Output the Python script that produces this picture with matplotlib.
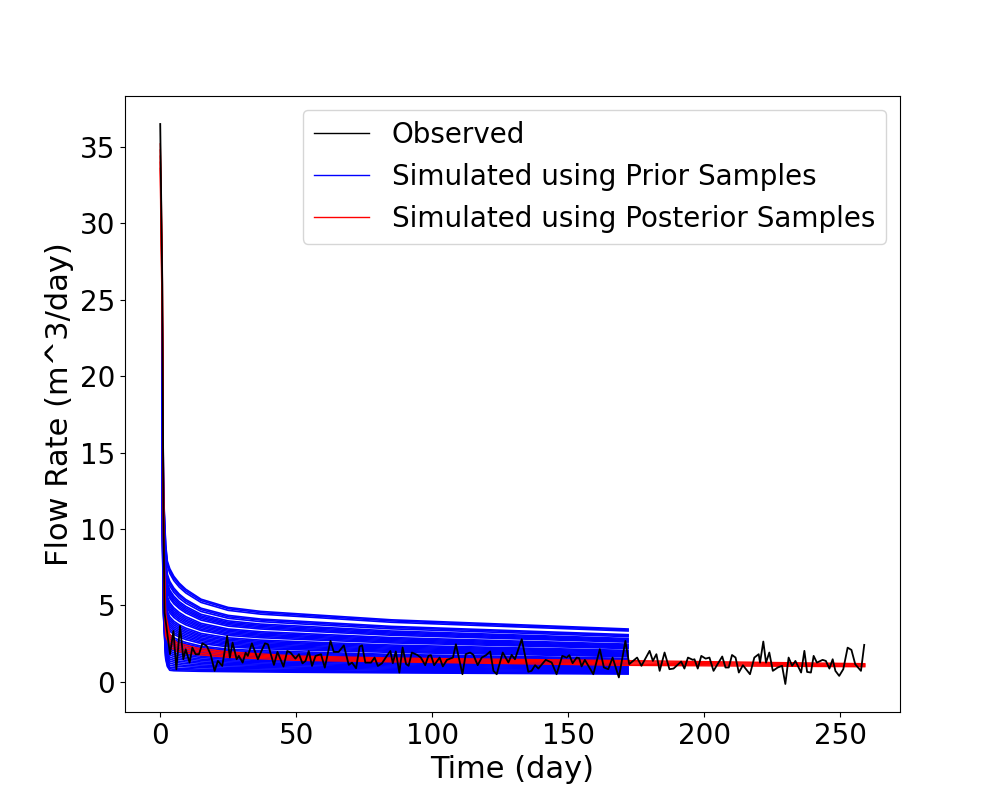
import matplotlib
matplotlib.use('Agg')
import matplotlib.pyplot as plt
from matplotlib.lines import Line2D

prior_time = [0.6, 1.2, 2, 2.6, 3.5, 5, 7, 9.4, 15, 25, 37, 50, 85, 172]
prior_curves = [
    [27.0, 12.4, 9.0, 7.9, 7.4, 6.9, 6.45, 6.05, 5.4, 4.86, 4.6, 4.45, 4.05, 3.45],
    [26.7, 12.2, 8.85, 7.76, 7.27, 6.78, 6.34, 5.94, 5.31, 4.78, 4.52, 4.37, 3.98, 3.39],
    [26.3, 12.0, 8.66, 7.59, 7.1, 6.62, 6.19, 5.81, 5.19, 4.67, 4.42, 4.28, 3.89, 3.32],
    [25.1, 11.4, 8.06, 7.04, 6.57, 6.13, 5.73, 5.38, 4.81, 4.34, 4.1, 3.97, 3.62, 3.08],
    [24.8, 11.2, 7.91, 6.9, 6.44, 6.0, 5.62, 5.27, 4.72, 4.25, 4.03, 3.89, 3.55, 3.02],
    [24.5, 11.0, 7.73, 6.73, 6.27, 5.85, 5.47, 5.14, 4.6, 4.15, 3.93, 3.8, 3.46, 2.95],
    [23.9, 10.7, 7.43, 6.45, 6.0, 5.6, 5.24, 4.93, 4.41, 3.98, 3.77, 3.65, 3.32, 2.83],
    [23.6, 10.5, 7.28, 6.31, 5.87, 5.48, 5.13, 4.82, 4.31, 3.89, 3.69, 3.57, 3.25, 2.77],
    [23.3, 10.4, 7.13, 6.18, 5.74, 5.36, 5.02, 4.71, 4.22, 3.81, 3.61, 3.49, 3.18, 2.71],
    [23.0, 10.2, 6.98, 6.04, 5.6, 5.23, 4.9, 4.61, 4.13, 3.73, 3.53, 3.42, 3.11, 2.65],
    [22.7, 10.1, 6.83, 5.9, 5.47, 5.11, 4.79, 4.5, 4.03, 3.64, 3.45, 3.34, 3.04, 2.59],
    [22.0, 9.7, 6.49, 5.59, 5.17, 4.83, 4.53, 4.26, 3.82, 3.45, 3.27, 3.17, 2.89, 2.46],
    [21.7, 9.5, 6.34, 5.45, 5.04, 4.71, 4.41, 4.15, 3.72, 3.37, 3.19, 3.09, 2.82, 2.4],
    [21.4, 9.4, 6.19, 5.31, 4.91, 4.58, 4.3, 4.04, 3.63, 3.29, 3.11, 3.01, 2.75, 2.34],
    [21.1, 9.2, 6.04, 5.17, 4.77, 4.46, 4.18, 3.94, 3.54, 3.2, 3.04, 2.94, 2.68, 2.28],
    [20.8, 9.0, 5.89, 5.04, 4.64, 4.34, 4.07, 3.83, 3.44, 3.12, 2.96, 2.86, 2.61, 2.23],
    [20.5, 8.9, 5.74, 4.9, 4.51, 4.21, 3.95, 3.72, 3.35, 3.03, 2.88, 2.78, 2.54, 2.17],
    [19.9, 8.6, 5.44, 4.62, 4.24, 3.96, 3.72, 3.51, 3.16, 2.87, 2.72, 2.63, 2.4, 2.05],
    [19.6, 8.4, 5.29, 4.48, 4.11, 3.84, 3.61, 3.4, 3.06, 2.78, 2.64, 2.55, 2.33, 1.99],
    [19.3, 8.2, 5.14, 4.35, 3.98, 3.72, 3.49, 3.29, 2.97, 2.7, 2.56, 2.48, 2.26, 1.93],
    [19.0, 8.1, 4.99, 4.21, 3.84, 3.59, 3.38, 3.19, 2.87, 2.61, 2.48, 2.4, 2.19, 1.87],
    [18.7, 7.9, 4.84, 4.07, 3.71, 3.47, 3.26, 3.08, 2.78, 2.53, 2.4, 2.32, 2.12, 1.81],
    [18.4, 7.7, 4.69, 3.93, 3.58, 3.35, 3.15, 2.97, 2.69, 2.45, 2.32, 2.25, 2.05, 1.75],
    [18.1, 7.6, 4.54, 3.79, 3.44, 3.22, 3.03, 2.87, 2.59, 2.36, 2.24, 2.17, 1.99, 1.69],
    [17.8, 7.4, 4.39, 3.66, 3.31, 3.1, 2.92, 2.76, 2.5, 2.28, 2.16, 2.09, 1.92, 1.64],
    [17.3, 7.1, 4.13, 3.42, 3.08, 2.88, 2.72, 2.57, 2.33, 2.13, 2.03, 1.96, 1.79, 1.53],
    [17.0, 7.0, 3.98, 3.28, 2.94, 2.76, 2.6, 2.47, 2.24, 2.05, 1.95, 1.88, 1.73, 1.47],
    [16.7, 6.8, 3.83, 3.14, 2.81, 2.64, 2.49, 2.36, 2.14, 1.96, 1.87, 1.81, 1.66, 1.41],
    [16.4, 6.6, 3.68, 3.0, 2.68, 2.51, 2.37, 2.25, 2.05, 1.88, 1.79, 1.73, 1.59, 1.36],
    [16.1, 6.5, 3.53, 2.86, 2.55, 2.39, 2.26, 2.14, 1.95, 1.79, 1.71, 1.65, 1.52, 1.3],
    [15.8, 6.3, 3.38, 2.73, 2.41, 2.27, 2.15, 2.04, 1.86, 1.71, 1.63, 1.58, 1.45, 1.24],
    [15.5, 6.2, 3.23, 2.59, 2.28, 2.14, 2.03, 1.93, 1.77, 1.63, 1.55, 1.5, 1.38, 1.18],
    [15.2, 6.0, 3.08, 2.45, 2.15, 2.02, 1.92, 1.82, 1.67, 1.54, 1.47, 1.42, 1.31, 1.12],
    [14.9, 5.8, 2.93, 2.31, 2.01, 1.89, 1.8, 1.72, 1.58, 1.46, 1.39, 1.35, 1.24, 1.06],
    [14.6, 5.7, 2.78, 2.17, 1.88, 1.77, 1.69, 1.61, 1.48, 1.37, 1.31, 1.27, 1.17, 1.0],
    [14.3, 5.5, 2.63, 2.04, 1.75, 1.65, 1.57, 1.5, 1.39, 1.29, 1.23, 1.19, 1.1, 0.94],
    [14.0, 5.4, 2.48, 1.9, 1.61, 1.52, 1.46, 1.4, 1.29, 1.21, 1.15, 1.12, 1.03, 0.88],
    [13.7, 5.2, 2.33, 1.76, 1.48, 1.4, 1.34, 1.29, 1.2, 1.12, 1.08, 1.04, 0.96, 0.82],
    [13.4, 5.0, 2.18, 1.62, 1.35, 1.28, 1.23, 1.18, 1.1, 1.04, 1.0, 0.96, 0.89, 0.77],
    [13.1, 4.9, 2.03, 1.48, 1.22, 1.15, 1.11, 1.07, 1.01, 0.95, 0.92, 0.89, 0.82, 0.71],
    [12.8, 4.7, 1.88, 1.35, 1.08, 1.03, 1.0, 0.97, 0.92, 0.87, 0.84, 0.81, 0.75, 0.65],
    [12.5, 4.5, 1.73, 1.21, 0.95, 0.91, 0.88, 0.86, 0.82, 0.79, 0.76, 0.73, 0.68, 0.59],
    [12.2, 4.4, 1.61, 1.1, 0.85, 0.81, 0.8, 0.78, 0.75, 0.72, 0.7, 0.68, 0.63, 0.54],
    [12.0, 4.3, 1.5, 1.0, 0.75, 0.72, 0.71, 0.7, 0.68, 0.66, 0.64, 0.62, 0.58, 0.5],
]

post_time = [0.02, 0.3, 0.75, 1.15, 1.4, 2, 3.5, 6, 13.6, 25, 50, 85, 172, 259]
post_curves = [
    [35.2, 32.5, 28.0, 15.0, 9.0, 4.4, 3.1, 2.55, 2.2, 1.95, 1.68, 1.55, 1.38, 1.18],
    [34.8, 31.5, 27.0, 13.8, 8.1, 4.0, 2.9, 2.41, 2.09, 1.86, 1.61, 1.49, 1.31, 1.13],
    [34.4, 30.5, 26.0, 12.5, 7.2, 3.7, 2.7, 2.28, 1.99, 1.78, 1.54, 1.43, 1.23, 1.08],
    [34.0, 29.5, 25.0, 11.2, 6.3, 3.3, 2.5, 2.14, 1.88, 1.69, 1.47, 1.36, 1.15, 1.03],
    [33.6, 28.5, 24.0, 10.0, 5.5, 3.0, 2.3, 2.0, 1.78, 1.6, 1.4, 1.3, 1.07, 0.98],
]

obs_time = [0, 0.75, 1.15, 1.4, 1.6, 3.6, 4.84, 5.94, 7.28, 8.5, 9.36, 10.8, 11.8, 13.0, 14.25,
            15.5, 17.1, 18.5, 20, 21.2, 22.8, 24.6, 25.6, 26.6, 28.1, 28.9, 30.3, 31.4, 32.2,
            33.7, 35.9, 37.2, 38.5, 39.6, 41.8, 43.1, 45.3, 46.7, 47.9, 49.7, 51, 52.3, 53.4,
            54.6, 55.8, 57.1, 59.1, 60.5, 62.6, 63.8, 65.6, 67.5, 69.3, 70.5, 72, 73.3, 74.2,
            75.4, 77.5, 78.8, 80, 81.5, 83.3, 84.6,
            85.5, 86.6, 87.9, 89.1, 90.4, 91.3, 92.5, 94.4, 95.8, 97.4, 98.6, 99.5, 100.7,
            102.7, 103.9, 105.4, 107.6, 108.7, 109.9, 111.1, 112.3, 113.9, 115.1, 116.7, 118.2,
            119.8, 121.3, 122.5, 123.7, 125.9, 128, 129.2, 130.4, 132.9, 135.3, 136.5, 137.8,
            139, 141.7, 143.9, 145.7, 147.8, 149.4, 150.4, 151.6, 153.1, 154, 154.9, 156.1,
            159.2, 161.6, 163.1, 164.7, 166.3, 168.6, 171, 172.4,
            175.3, 176.9, 179.9, 181.1, 182.4, 183.6, 185.4, 187.2, 188.7, 191.5, 192.7, 194,
            195.8, 196.4, 197.6, 198.9, 200.5, 201.9, 203.4, 206.6, 207.8, 209, 210.2, 211.5,
            212.7, 214.2, 216.8, 218.4, 220, 220.5, 221.7, 222.7, 223.9, 225.2, 227, 228.6,
            229.8, 231, 232.3, 233.5, 235.6, 236.8, 237.8, 239.2, 240.2, 241.4, 243.5, 244.7,
            246, 247.2, 248.2, 249.6, 251.1, 252.7, 254.1, 255.5, 257.6, 258.8]
obs_rate = [36.5, 26, 12, 7.3, 4.5, 1.8, 3.32, 0.81, 3.65, 1.47, 2.12, 1.25, 2.23, 1.8, 1.8,
            2.51, 2.34, 1.8, 0.71, 1.36, 1.03, 2.99, 1.58, 2.56, 1.47, 1.69, 1.25, 1.9, 1.69,
            2.51, 1.47, 2.01, 2.51, 2.45, 1.1, 1.95, 0.99, 2.01, 1.9, 1.51, 1.8, 1.2, 1.36,
            2.01, 1.03, 1.69, 1.8, 0.92, 2.67, 1.95, 1.95, 2.38, 1.1, 1.25, 0.88, 2.3, 2.38,
            1.25, 1.25, 1.58, 1.03, 1.2, 1.69, 2.01,
            1.21, 1.98, 0.6, 2.24, 1.15, 1.04, 1.91, 1.76, 1.58, 1.08, 1.69, 1.74, 1.08,
            1.58, 1.0, 1.43, 1.58, 2.45, 1.47, 0.49, 1.8, 1.91, 1.76, 1.08, 1.58,
            1.74, 1.98, 0.71, 0.49, 1.91, 1.26, 1.76, 1.47, 2.78, 0.65, 0.71, 1.08,
            0.86, 1.43, 1.26, 0.49, 1.69, 1.58, 1.74, 1.21, 1.58, 1.54, 1.0, 1.43,
            0.49, 2.13, 0.93, 0.82, 1.58, 0.28, 2.67, 1.15,
            1.58, 1.04, 2.02, 1.36, 1.8, 0.71, 1.91, 0.82, 0.86, 1.32, 0.86, 1.58,
            1.43, 1.47, 0.86, 1.69, 1.51, 1.58, 0.71, 1.65, 0.93, 0.93, 1.75, 1.58,
            0.6, 1.08, 0.49, 1.58, 1.8, 1.25, 2.63, 1.25, 1.91, 0.71, 0.93, 1.04,
            -0.15, 1.58, 1.04, 1.36, 0.6, 2.02, 0.64, 0.6, 1.69, 1.25, 1.43, 1.36,
            0.86, 1.47, 0.71, 0.38, 0.82, 2.23, 2.08, 1.14, 0.71, 2.41]

legend_labels = ['Observed', 'Simulated using Prior Samples', 'Simulated using Posterior Samples']


def main():
    plt.figure(figsize=(10, 8), dpi=100)

    for curve in prior_curves:
        plt.plot(prior_time, curve, color='blue', linewidth=1.2)
    for curve in post_curves:
        plt.plot(post_time, curve, color='red', linewidth=1)
    plt.plot(obs_time, obs_rate, color='black', linewidth=1.3)

    plt.xlabel('Time (day)', fontsize=22)
    plt.ylabel('Flow Rate (m^3/day)', fontsize=22)
    plt.xticks(fontsize=20)
    plt.yticks(fontsize=20)

    handles = [Line2D([], [], color=c, linewidth=1) for c in ['black', 'blue', 'red']]
    plt.legend(handles, legend_labels, loc='upper right', fontsize=20)

    plt.savefig('out.png', dpi=100)


if __name__ == "__main__":
    main()
